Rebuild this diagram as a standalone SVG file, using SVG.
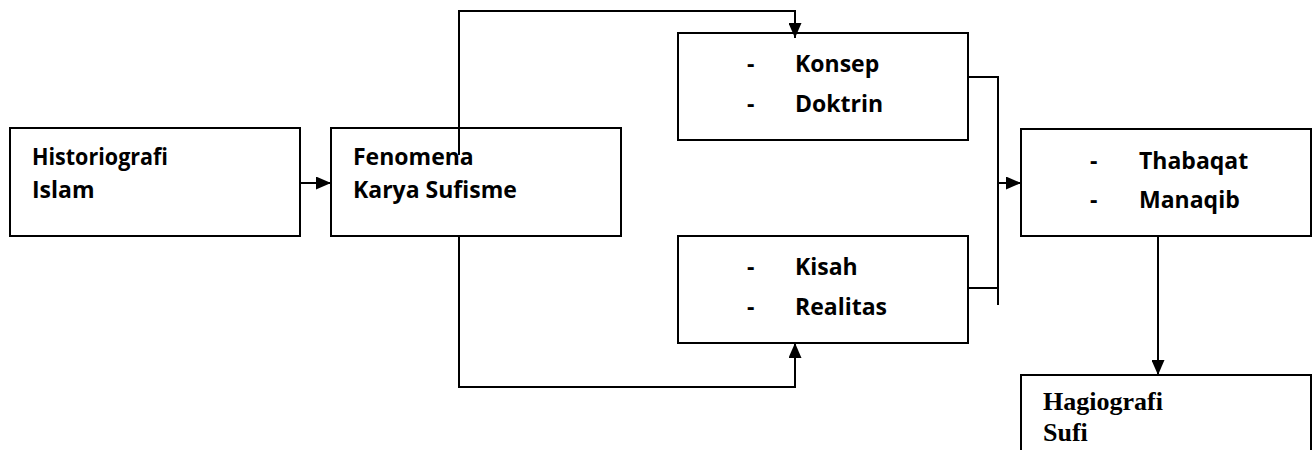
<svg xmlns="http://www.w3.org/2000/svg" width="1315" height="450" viewBox="0 0 1315 450">
  <style>
    .box { fill: #ffffff; stroke: #000000; stroke-width: 2; }
    .t { font-family: "Open Sans", "Noto Sans", "Liberation Sans", sans-serif; font-weight: 700; font-size: 23px; fill: #000000; }
    .ts { font-family: "Liberation Serif", "DejaVu Serif", serif; font-weight: 700; font-size: 26px; fill: #000000; }
    .c { fill: none; stroke: #000000; stroke-width: 2; }
  </style>
  <defs>
    <marker id="arr" viewBox="0 0 15 13" refX="15" refY="6.5" markerWidth="15" markerHeight="13" markerUnits="userSpaceOnUse" orient="auto">
      <path d="M0,0 L15,6.5 L0,13 z" fill="#000000"/>
    </marker>
  </defs>
  <rect width="1315" height="450" fill="#ffffff"/>

  <g id="node-historiografi">
    <rect class="box" x="10" y="128" width="290" height="108"/>
    <text class="t" x="32" y="165" textLength="136" lengthAdjust="spacingAndGlyphs">Historiografi</text>
    <text class="t" x="32" y="198">Islam</text>
  </g>

  <g id="node-fenomena">
    <rect class="box" x="331" y="128" width="290" height="108"/>
    <text class="t" x="353" y="165">Fenomena</text>
    <text class="t" x="353" y="198">Karya Sufisme</text>
  </g>

  <g id="node-konsep">
    <rect class="box" x="678" y="33" width="290" height="107"/>
    <text class="t" x="747" y="72">-</text>
    <text class="t" x="795" y="72">Konsep</text>
    <text class="t" x="747" y="112">-</text>
    <text class="t" x="795" y="112">Doktrin</text>
  </g>

  <g id="node-kisah">
    <rect class="box" x="678" y="236" width="290" height="107"/>
    <text class="t" x="747" y="275">-</text>
    <text class="t" x="795" y="275">Kisah</text>
    <text class="t" x="747" y="315">-</text>
    <text class="t" x="795" y="315">Realitas</text>
  </g>

  <g id="node-thabaqat">
    <rect class="box" x="1021" y="129" width="290" height="107"/>
    <text class="t" x="1090" y="169">-</text>
    <text class="t" x="1139" y="169">Thabaqat</text>
    <text class="t" x="1090" y="208">-</text>
    <text class="t" x="1139" y="208">Manaqib</text>
  </g>

  <g id="node-hagiografi">
    <rect class="box" x="1021" y="375" width="290" height="100"/>
    <text class="ts" x="1043" y="410">Hagiografi</text>
    <text class="ts" x="1043" y="441">Sufi</text>
  </g>

  <g id="connectors">
    <line class="c" x1="300" y1="183" x2="331" y2="183" marker-end="url(#arr)"/>
    <polyline class="c" points="459,155 459,11 795,11 795,38" marker-end="url(#arr)"/>
    <polyline class="c" points="459,236 459,387 795,387 795,343" marker-end="url(#arr)"/>
    <polyline class="c" points="968,77 998,77"/>
    <polyline class="c" points="968,288 998,288"/>
    <line class="c" x1="998" y1="76" x2="998" y2="305"/>
    <line class="c" x1="998" y1="183" x2="1021" y2="183" marker-end="url(#arr)"/>
    <line class="c" x1="1158" y1="236" x2="1158" y2="375" marker-end="url(#arr)"/>
  </g>
</svg>
